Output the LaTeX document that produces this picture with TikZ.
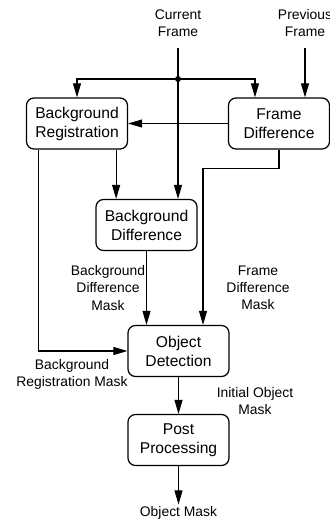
\documentclass[tikz,border=0pt]{standalone}
\usepackage{fontspec}
\setmainfont{Liberation Sans}
\usepackage{tikz}
\usetikzlibrary{calc}
\usetikzlibrary{arrows.meta}

\begin{document}
\begin{tikzpicture}[x=0.2mm, y=-0.2mm,
        block/.style={draw, line width=0.7pt, rounded corners=1.5mm,
                      minimum width=20.2mm, minimum height=10.2mm,
                      align=center, inner sep=1pt,
                      font=\fontsize{8.9}{10.8}\selectfont},
        lbl/.style={align=center, inner sep=1pt,
                    font=\fontsize{7.9}{9.7}\selectfont},
        wire/.style={line width=0.6pt},
        flow/.style={wire, -{Triangle[length=2.8mm, width=1.6mm]}}]
            \useasboundingbox                                   (0, 0) rectangle (330, 525);
            % Inputs
            \node[lbl, anchor=south] (cur)    at (178.0,  39.0) {Current\\Frame};
            \node[lbl, anchor=south] (prev)   at (305.0,  39.0) {Previous\\Frame};
            % Processing blocks
            \node[block]             (bgreg)  at ( 77.0, 123.5) {Background\\Registration};
            \node[block]             (fdiff)  at (279.0, 123.5) {Frame\\Difference};
            \node[block]             (bgdiff) at (146.5, 225.0) {Background\\Difference};
            \node[block]             (objdet) at (178.5, 351.0) {Object\\Detection};
            \node[block]             (post)   at (178.5, 440.0) {Post\\Processing};
            \node[lbl]               (out)    at (178.5, 513.0) {Object Mask};
            % Mask labels
            \node[lbl]               (bdmask) at (108.0, 288.0) {Background\\Difference\\Mask};
            \node[lbl]               (fdmask) at (258.0, 288.0) {Frame\\Difference\\Mask};
            \node[lbl]               (brmask) at ( 72.0, 374.5) {Background\\Registration Mask};
            \node[lbl]               (iomask) at (255.0, 401.5) {Initial Object\\Mask};
            % Tap points
            \coordinate (split)  at (178.0, 79.0);
            \coordinate (regout) at ($(bgreg.south east)+(-12,0)$);
            \coordinate (regmsk) at ($(bgreg.south west)+(13,0)$);
            \coordinate (fdin)   at ($(objdet.north)+(24.5,0)$);
            % Current frame feed
            \draw[wire] ($(cur.south)+(0,9)$) -- (split);
            \draw[flow] (split) -- (split |- bgdiff.north);
            \draw[flow] (split) -| (bgreg.north);
            \draw[flow] (split) -| ($(fdiff.north)+(-24,0)$);
            \fill       (split) circle (1.7pt);
            % Previous frame feed
            \draw[flow] ($(prev.south)+(0,9)$) -- (prev.south |- fdiff.north);
            % Between blocks
            \draw[flow] (fdiff.west) -- (bgreg.east);
            \draw[flow] (regout) -- (regout |- bgdiff.north);
            \draw[flow] (bgdiff.south) -- (bgdiff.south |- objdet.north);
            \draw[flow] (fdiff.south) -- ++(0, 19) -| (fdin);
            \draw[flow] (regmsk) |- (objdet.west);
            \draw[flow] (objdet) -- (post);
            \draw[flow] (post.south) -- (out.north);
\end{tikzpicture}
\end{document}
